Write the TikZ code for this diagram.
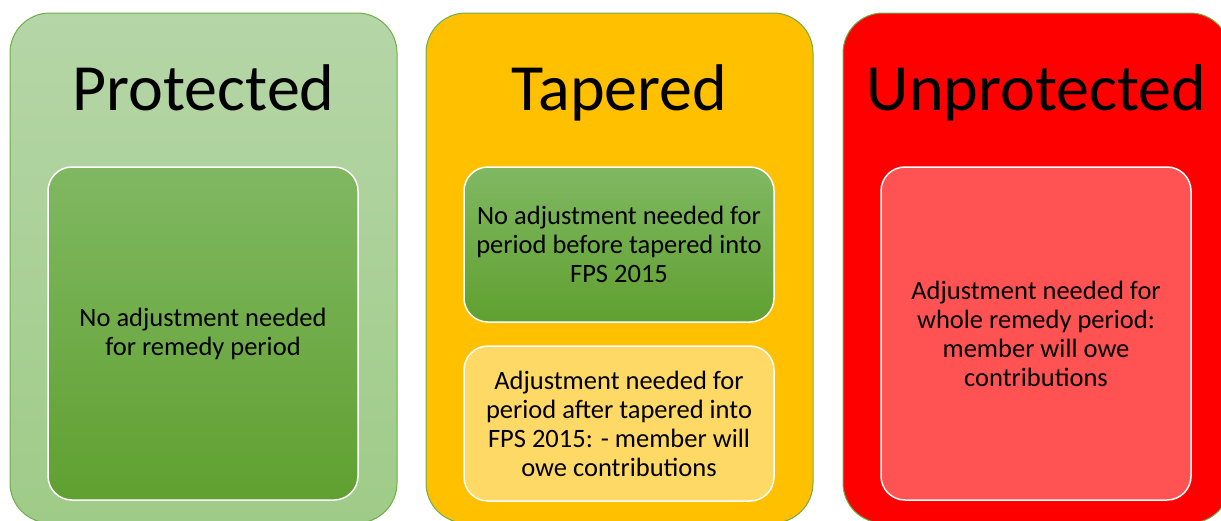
\documentclass[tikz,border=0pt]{standalone}
\usepackage{fontspec}
\setmainfont{Carlito}
\definecolor{protTop}{HTML}{B5D6A7}
\definecolor{protBot}{HTML}{9FCB88}
\definecolor{greenTop}{HTML}{80B862}
\definecolor{greenBot}{HTML}{60A030}
\definecolor{taperFill}{HTML}{FFC000}
\definecolor{paleYellow}{HTML}{FFD966}
\definecolor{unprotFill}{HTML}{FF0000}
\definecolor{paleRed}{HTML}{FF5252}
\definecolor{edgeGreen}{HTML}{70AD47}
\begin{document}
\begin{tikzpicture}[x=1pt, y=-1pt,
        column/.style={draw=edgeGreen, line width=1pt, rounded corners=40pt,
            minimum width=387pt, minimum height=510pt, inner sep=0pt},
        card/.style={draw=white, line width=1.5pt, rounded corners=24pt,
            minimum width=310pt, inner sep=0pt, align=center,
            font=\fontsize{26.5}{29}\selectfont},
        heading/.style={anchor=base, font=\fontsize{66}{78}\selectfont}]
        \useasboundingbox (0, 0) rectangle (1221, 520);

        \node[column, top color=protTop, bottom color=protBot] (prot) at (203.5, 268) {};
        \node[column, fill=taperFill] (taper) at (619.5, 268) {};
        \node[column, fill=unprotFill] (unprot) at (1036.5, 268) {};

        \node[heading] (protTitle) at (203.5, 110) {Protected};
        \node[heading] (taperTitle) at (619.5, 110) {Tapered};
        \node[heading] (unprotTitle) at (1036.5, 110) {Unprotected};

        \node[card, minimum height=333pt, top color=greenTop, bottom color=greenBot]
            (protIn) at (203, 333.5) {No adjustment needed\\for remedy period};
        \node[card, minimum height=155pt, top color=greenTop, bottom color=greenBot]
            (taperTop) at (619, 244.5) {No adjustment needed for\\period before tapered into\\FPS 2015};
        \node[card, minimum height=155pt, fill=paleYellow]
            (taperBot) at (619, 423.5) {Adjustment needed for\\period after tapered into\\FPS 2015: - member will\\owe contributions};
        \node[card, minimum height=333pt, fill=paleRed]
            (unprotIn) at (1036, 333.5) {Adjustment needed for\\whole remedy period:\\member will owe\\contributions};
    \end{tikzpicture}
\end{document}
